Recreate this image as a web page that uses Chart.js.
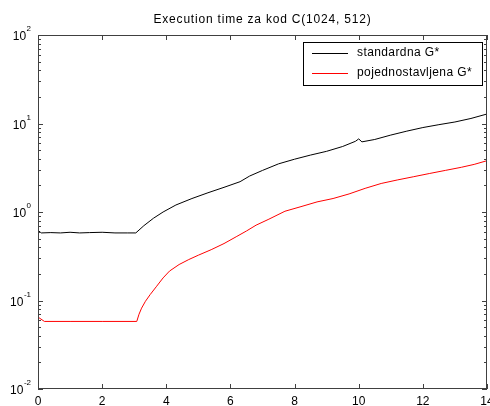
<!DOCTYPE html>
<html>
<head>
<meta charset="utf-8">
<script src="https://cdn.jsdelivr.net/npm/chart.js@4/dist/chart.umd.min.js"></script>
<style>
html,body{margin:0;padding:0;background:#fff;}
#wrap{width:490px;height:406px;position:relative;}
</style>
</head>
<body>
<div id="wrap"><canvas id="c" width="490" height="406"></canvas></div>
<script>
const chartTitle = 'Execution time za kod C(1024, 512)';
const seriesNames = ['standardna G*', 'pojednostavljena G*'];
const xTicks = [0, 2, 4, 6, 8, 10, 12, 14];
const yExponents = [-2, -1, 0, 1, 2];

const stdX = [0, 0.1, 0.4, 0.7, 1.0, 1.3, 1.6, 2.0, 2.4, 2.8, 3.05, 3.3, 3.6, 3.9, 4.3, 4.8, 5.3, 5.8, 6.3, 6.6, 7.0, 7.5, 8.0, 8.5, 9.0, 9.5, 9.9, 10.0, 10.1, 10.5, 11.0, 11.5, 12.0, 12.5, 13.0, 13.5, 14.0];
const stdY = [0.62, 0.58, 0.585, 0.58, 0.59, 0.58, 0.585, 0.59, 0.58, 0.58, 0.58, 0.7, 0.85, 1.0, 1.2, 1.42, 1.65, 1.9, 2.2, 2.55, 2.95, 3.5, 3.95, 4.4, 4.85, 5.5, 6.3, 6.7, 6.2, 6.6, 7.4, 8.2, 9.0, 9.7, 10.4, 11.4, 12.8];

const simX = [0, 0.2, 1, 2, 3.08, 3.15, 3.23, 3.35, 3.5, 3.7, 3.9, 4.1, 4.4, 4.7, 5.0, 5.4, 5.8, 6.2, 6.5, 6.8, 7.2, 7.7, 8.2, 8.7, 9.2, 9.7, 10.2, 10.7, 11.2, 11.7, 12.2, 12.7, 13.2, 13.6, 14.0];
const simY = [0.065, 0.058, 0.058, 0.058, 0.058, 0.07, 0.082, 0.098, 0.117, 0.145, 0.18, 0.215, 0.255, 0.29, 0.325, 0.375, 0.44, 0.53, 0.61, 0.71, 0.83, 1.02, 1.15, 1.3, 1.42, 1.6, 1.85, 2.1, 2.3, 2.5, 2.72, 2.95, 3.2, 3.45, 3.8];

const toPts = (xs, ys) => xs.map((x, i) => ({x: x, y: ys[i]}));
const FONT = '"Liberation Sans", Arial, sans-serif';

const matlabAxes = {
  id: 'matlabAxes',
  afterDatasetsDraw(chart) {
    const ctx = chart.ctx;
    const a = chart.chartArea;
    const xs = chart.scales.x, ys = chart.scales.y;
    ctx.save();
    // frame
    ctx.strokeStyle = '#404040';
    ctx.lineWidth = 1;
    ctx.strokeRect(Math.round(a.left) + 0.5, Math.round(a.top) + 0.5, Math.round(a.right - a.left) - 1, Math.round(a.bottom - a.top) - 1);
    // x ticks
    ctx.beginPath();
    xTicks.forEach(v => {
      const px = Math.round(xs.getPixelForValue(v)) + 0.5;
      ctx.moveTo(px, a.bottom); ctx.lineTo(px, a.bottom - 5);
      ctx.moveTo(px, a.top); ctx.lineTo(px, a.top + 5);
    });
    // y ticks (major + minor)
    for (let e = yExponents[0]; e <= yExponents[yExponents.length - 1]; e++) {
      const py = Math.round(ys.getPixelForValue(Math.pow(10, e))) + 0.5;
      ctx.moveTo(a.left, py); ctx.lineTo(a.left + 5, py);
      ctx.moveTo(a.right, py); ctx.lineTo(a.right - 5, py);
      if (e < yExponents[yExponents.length - 1]) {
        for (let m = 2; m <= 9; m++) {
          const pm = Math.round(ys.getPixelForValue(m * Math.pow(10, e))) + 0.5;
          ctx.moveTo(a.left, pm); ctx.lineTo(a.left + 3, pm);
          ctx.moveTo(a.right, pm); ctx.lineTo(a.right - 3, pm);
        }
      }
    }
    ctx.stroke();
    // x labels
    ctx.fillStyle = '#000';
    ctx.font = '12px ' + FONT;
    ctx.textAlign = 'center';
    ctx.textBaseline = 'alphabetic';
    xTicks.forEach(v => {
      ctx.fillText(String(v), xs.getPixelForValue(v), a.bottom + 16);
    });
    // y labels with superscripts
    yExponents.forEach(e => {
      const py = ys.getPixelForValue(Math.pow(10, e));
      ctx.font = '8px ' + FONT;
      const expStr = String(e);
      const ew = ctx.measureText(expStr).width;
      ctx.textAlign = 'left';
      ctx.textBaseline = 'alphabetic';
      const right = a.left - 7;
      ctx.fillText(expStr, right - ew, py - 4);
      ctx.font = '12px ' + FONT;
      const bw = ctx.measureText('10').width;
      ctx.fillText('10', right - ew - bw - 0.5, py + 5);
    });
    // title
    if ('letterSpacing' in ctx) ctx.letterSpacing = '0.8px';
    ctx.font = '12px ' + FONT;
    ctx.textAlign = 'center';
    ctx.textBaseline = 'alphabetic';
    ctx.fillText(chartTitle, (a.left + a.right) / 2, 23);
    // legend
    const lx = 303, ly = 42, lw = 179, lh = 43;
    ctx.fillStyle = '#fff';
    ctx.fillRect(lx, ly, lw, lh);
    ctx.strokeStyle = '#000';
    ctx.strokeRect(lx + 0.5, ly + 0.5, lw, lh);
    if ('letterSpacing' in ctx) ctx.letterSpacing = '0.4px';
    chart.data.datasets.forEach((ds, i) => {
      const cy = ly + 11 + i * 20;
      ctx.strokeStyle = ds.borderColor;
      ctx.beginPath();
      ctx.moveTo(lx + 9, Math.round(cy) + 0.5);
      ctx.lineTo(lx + 45, Math.round(cy) + 0.5);
      ctx.stroke();
      ctx.fillStyle = '#000';
      ctx.font = '12px ' + FONT;
      ctx.textAlign = 'left';
      ctx.textBaseline = 'middle';
      ctx.fillText(ds.label, lx + 54, cy);
    });
    ctx.restore();
  }
};

new Chart(document.getElementById('c'), {
  type: 'line',
  data: {
    datasets: [
      {label: seriesNames[0], data: toPts(stdX, stdY), borderColor: '#000000', borderWidth: 1, pointRadius: 0, tension: 0, fill: false},
      {label: seriesNames[1], data: toPts(simX, simY), borderColor: '#ff0000', borderWidth: 1, pointRadius: 0, tension: 0, fill: false}
    ]
  },
  options: {
    responsive: false,
    animation: false,
    devicePixelRatio: 1,
    layout: {padding: {left: 38, right: 3, top: 35, bottom: 17}},
    plugins: {legend: {display: false}, title: {display: false}, tooltip: {enabled: false}},
    scales: {
      x: {type: 'linear', min: 0, max: 14, display: false},
      y: {type: 'logarithmic', min: 0.01, max: 100, display: false}
    }
  },
  plugins: [matlabAxes]
});
</script>
</body>
</html>
